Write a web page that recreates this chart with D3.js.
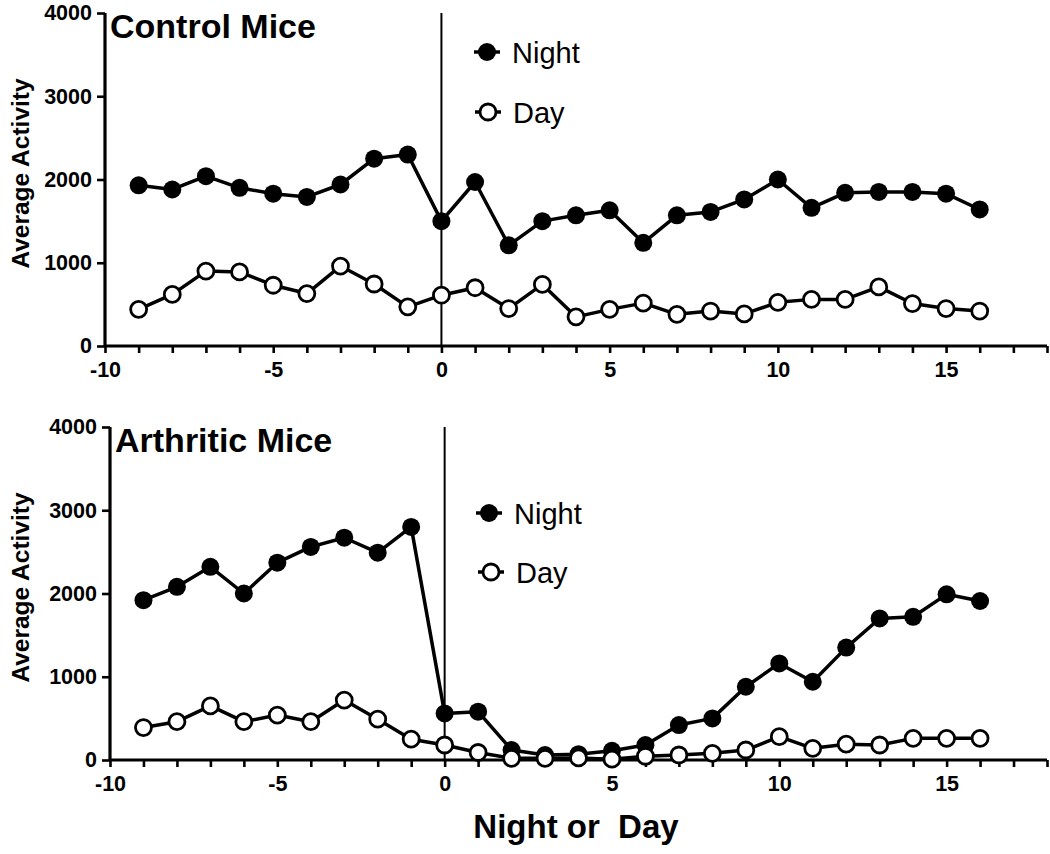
<!DOCTYPE html>
<html>
<head>
<meta charset="utf-8">
<script src="https://cdn.jsdelivr.net/npm/d3@7"></script>
<style>
  html, body { margin: 0; padding: 0; background: #fff; }
  svg { display: block; font-family: "Liberation Sans", Arial, sans-serif; }
</style>
</head>
<body>
<svg id="chart" width="1050" height="854"></svg>
<script>
// ---- Data ----
const days = [-9,-8,-7,-6,-5,-4,-3,-2,-1,0,1,2,3,4,5,6,7,8,9,10,11,12,13,14,15,16];
const controlNight = [1930,1880,2040,1900,1830,1790,1940,2250,2300,1500,1970,1210,1500,1570,1630,1240,1570,1610,1760,2000,1660,1840,1850,1850,1830,1640];
const controlDay   = [440,620,900,890,730,630,960,745,470,610,700,450,740,350,440,515,380,420,385,525,560,560,710,510,450,420];
const arthNight    = [1920,2080,2320,2000,2370,2560,2670,2490,2800,560,580,120,60,70,110,180,420,500,880,1160,940,1350,1700,1720,1990,1910];
const arthDay      = [390,460,650,460,540,460,720,490,250,180,90,20,20,25,10,45,60,80,120,280,140,190,180,260,260,260];
const yTicks = [0,1000,2000,3000,4000];
const xTickLabels = [-10,-5,0,5,10,15];
const xMinorTicks = d3.range(-10, 19, 1);
const seriesNames = ["Night","Day"];
const panelTitles = ["Control Mice","Arthritic Mice"];
const yLabel = "Average Activity";
const xLabel = "Night or  Day";

const svg = d3.select("#chart");

const panels = [
  {title: panelTitles[0], night: controlNight, day: controlDay,
   x0: 105, x1: 1047, yTop: 13, yBot: 346,
   titleX: 110, titleY: 38,
   legend: {nx: 487, ny: 52, dx: 488, dy: 112}},
  {title: panelTitles[1], night: arthNight, day: arthDay,
   x0: 110, x1: 1047, yTop: 427, yBot: 760,
   titleX: 115, titleY: 452,
   legend: {nx: 489, ny: 513, dx: 491, dy: 572}}
];

panels.forEach((p, i) => {
  const x = d3.scaleLinear().domain([-10, 18]).range([p.x0, p.x1]);
  const y = d3.scaleLinear().domain([0, 4000]).range([p.yBot, p.yTop]);
  const g = svg.append("g");

  // X axis
  const xAxis = d3.axisBottom(x).tickValues(xMinorTicks).tickSize(7)
    .tickFormat(d => xTickLabels.includes(d) ? d : "");
  const gx = g.append("g").attr("transform", `translate(0,${p.yBot})`).call(xAxis);
  gx.select(".domain").attr("stroke", "#000").attr("stroke-width", 3.2)
    .attr("d", `M${p.x0},0H${p.x1}`);
  gx.selectAll(".tick line").attr("stroke", "#000").attr("stroke-width", 2.6);
  gx.selectAll(".tick text").attr("fill", "#000").attr("font-size", 21.5)
    .attr("font-weight", "bold").attr("dy", null).attr("y", 31)
    .attr("font-family", '"Liberation Sans", Arial, sans-serif');

  // Y axis
  const yAxis = d3.axisLeft(y).tickValues(yTicks).tickSize(8).tickPadding(5).tickFormat(d3.format("d"));
  const gy = g.append("g").attr("transform", `translate(${p.x0},0)`).call(yAxis);
  gy.select(".domain").attr("stroke", "#000").attr("stroke-width", 3.2)
    .attr("d", `M0,${p.yTop}V${p.yBot}`);
  gy.selectAll(".tick line").attr("stroke", "#000").attr("stroke-width", 2.6);
  gy.selectAll(".tick text").attr("fill", "#000").attr("font-size", 21.5)
    .attr("font-weight", "bold")
    .attr("font-family", '"Liberation Sans", Arial, sans-serif');

  // Vertical line at 0
  g.append("line")
    .attr("x1", x(0)).attr("x2", x(0))
    .attr("y1", y(4000)).attr("y2", y(0))
    .attr("stroke", "#000").attr("stroke-width", 2);

  // Y label
  g.append("text")
    .attr("transform", `translate(29,${(p.yTop + p.yBot) / 2 - 6}) rotate(-90)`)
    .attr("text-anchor", "middle")
    .attr("font-size", 24.5).attr("font-weight", "bold")
    .text(yLabel);

  // Title
  g.append("text")
    .attr("x", p.titleX).attr("y", p.titleY)
    .attr("font-size", 34).attr("font-weight", "bold")
    .text(p.title);

  const line = d3.line().x((d, k) => x(days[k])).y(d => y(d));

  // Night series
  g.append("path").datum(p.night).attr("d", line)
    .attr("fill", "none").attr("stroke", "#000").attr("stroke-width", 3.5)
    .attr("stroke-linejoin", "round");
  g.selectAll(".nightPt").data(p.night).join("circle")
    .attr("cx", (d, k) => x(days[k])).attr("cy", d => y(d))
    .attr("r", 9).attr("fill", "#000");

  // Day series
  g.append("path").datum(p.day).attr("d", line)
    .attr("fill", "none").attr("stroke", "#000").attr("stroke-width", 3.5)
    .attr("stroke-linejoin", "round");
  g.selectAll(".dayPt").data(p.day).join("circle")
    .attr("cx", (d, k) => x(days[k])).attr("cy", d => y(d))
    .attr("r", 8).attr("fill", "#fff").attr("stroke", "#000").attr("stroke-width", 2.8);

  // Legend
  const L = p.legend;
  const leg = [
    {name: seriesNames[0], cx: L.nx, cy: L.ny, filled: true},
    {name: seriesNames[1], cx: L.dx, cy: L.dy, filled: false}
  ];
  leg.forEach(e => {
    g.append("line").attr("x1", e.cx - 13).attr("x2", e.cx + 13)
      .attr("y1", e.cy).attr("y2", e.cy)
      .attr("stroke", "#000").attr("stroke-width", 3.5);
    g.append("circle").attr("cx", e.cx).attr("cy", e.cy)
      .attr("r", e.filled ? 9 : 8)
      .attr("fill", e.filled ? "#000" : "#fff")
      .attr("stroke", "#000").attr("stroke-width", e.filled ? 0 : 2.8);
    g.append("text").attr("x", e.cx + 25).attr("y", e.cy + 11)
      .attr("font-size", 29).text(e.name);
  });
});

// X label
svg.append("text")
  .attr("x", 576).attr("y", 838)
  .attr("text-anchor", "middle")
  .attr("font-size", 33).attr("font-weight", "bold")
  .style("white-space", "pre")
  .text(xLabel);
</script>
</body>
</html>
